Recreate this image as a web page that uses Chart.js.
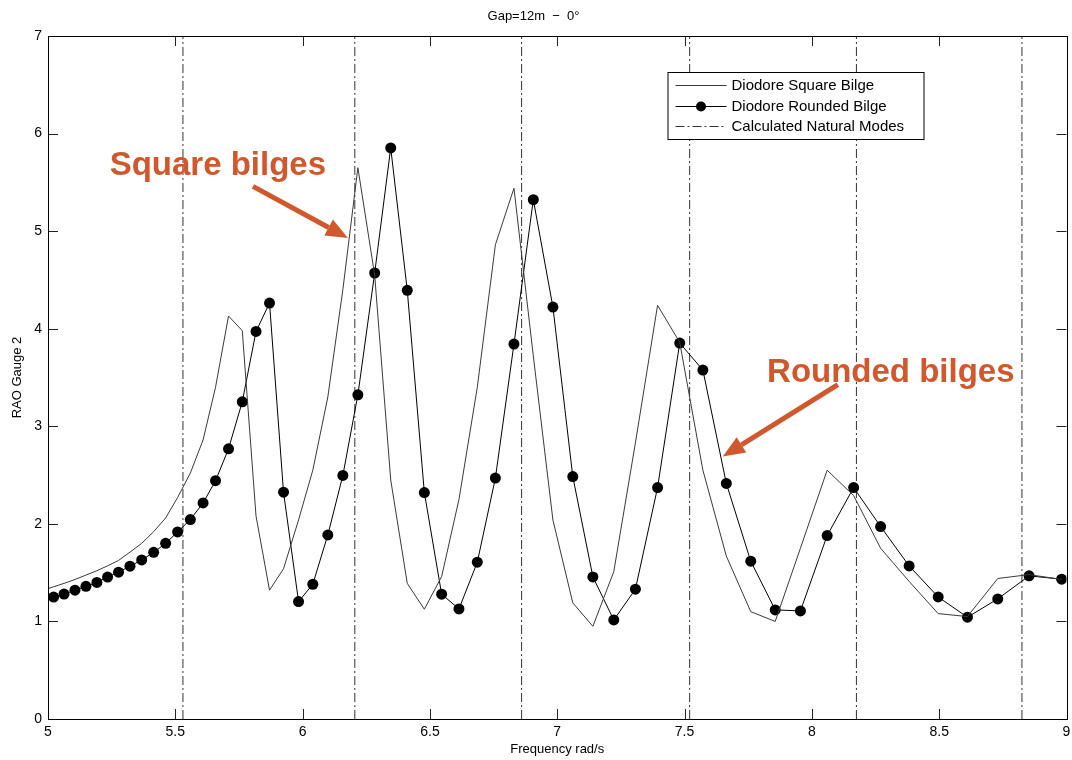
<!DOCTYPE html>
<html>
<head>
<meta charset="utf-8">
<title>RAO Gauge 2</title>
<script src="https://cdn.jsdelivr.net/npm/chart.js@4.4.1/dist/chart.umd.min.js"></script>
<style>
  html, body { margin: 0; padding: 0; background: #fff; }
  #wrap { width: 1072px; height: 760px; position: relative; }
</style>
</head>
<body>
<div id="wrap"><canvas id="rao"></canvas></div>
<script>
// frequency grid (rad/s), shared by both Diodore runs
const freq = [
  4.981, 5.022, 5.063, 5.106, 5.149, 5.192, 5.234, 5.277, 5.322, 5.368, 5.415,
  5.462, 5.509, 5.559, 5.609, 5.658, 5.709, 5.763, 5.817, 5.870, 5.925,
  5.984, 6.040, 6.099, 6.158, 6.217, 6.283, 6.346, 6.411, 6.478, 6.546,
  6.614, 6.686, 6.757, 6.830, 6.906, 6.983, 7.061, 7.140, 7.222, 7.307,
  7.394, 7.481, 7.572, 7.664, 7.760, 7.856, 7.955, 8.060, 8.164, 8.270,
  8.382, 8.496, 8.611, 8.730, 8.853, 8.981
]

const squareBilge = [
  1.32, 1.355, 1.39, 1.43, 1.475, 1.52, 1.57, 1.625, 1.71, 1.80, 1.92,
  2.06, 2.27, 2.52, 2.86, 3.40, 4.13, 3.98, 2.08, 1.32, 1.54,
  2.04, 2.55, 3.30, 4.40, 5.65, 4.55, 2.45, 1.39, 1.125, 1.46,
  2.25, 3.40, 4.86, 5.44, 3.72, 2.04, 1.19, 0.95, 1.51, 2.83,
  4.24, 3.86, 2.55, 1.67, 1.10, 1.00, 1.75, 2.55, 2.29, 1.75,
  1.41, 1.08, 1.05, 1.44, 1.48, 1.43
]

const roundedBilge = [
  1.225, 1.25, 1.28, 1.32, 1.36, 1.40, 1.455, 1.505, 1.566, 1.63, 1.708,
  1.80, 1.917, 2.044, 2.214, 2.442, 2.769, 3.251, 3.972, 4.263, 2.325,
  1.203, 1.381, 1.887, 2.496, 3.323, 4.571, 5.853, 4.393, 2.321, 1.279,
  1.128, 1.607, 2.469, 3.843, 5.323, 4.222, 2.485, 1.456, 1.015, 1.330,
  2.372, 3.853, 3.576, 2.414, 1.617, 1.118, 1.108, 1.880, 2.372, 1.972,
  1.569, 1.251, 1.043, 1.231, 1.467, 1.433
]

const naturalModes = [5.53, 6.205, 6.86, 7.52, 8.175, 8.825]

// callout labels, anchored in data units
const callouts = [
  {text: 'Square bilges', at: [5.667, 5.579], from: [5.805, 5.459], to: [6.178, 4.930]},
  {text: 'Rounded bilges', at: [8.310, 3.459], from: [8.102, 3.426], to: [7.650, 2.690]},
]

const FONT = '"Liberation Sans", Arial, Helvetica, sans-serif'
const ORANGE = '#d0582c'

function toPoints(xs, ys){
    return xs.map((x, i) => ({x: x, y: ys[i]}))
}

// one vertical segment per mode, separated by gaps
function modeLines(modes){
    let pts = []
    modes.forEach(m => {
        pts.push({x: m, y: 0}, {x: m, y: 7}, {x: m, y: null})
    })
    return pts
}

const frameAndTicks = {
    id: 'frameAndTicks',
    afterDatasetsDraw(chart){
        const {ctx, chartArea: a, scales} = chart
        ctx.save()
        ctx.strokeStyle = '#222'
        ctx.lineWidth = 1
        ctx.beginPath()
        scales.x.ticks.forEach(t => {
            if (t.value <= 5 || t.value >= 9) return
            const px = Math.round(scales.x.getPixelForValue(t.value)) + 0.5
            ctx.moveTo(px, a.bottom); ctx.lineTo(px, a.bottom - 10)
            ctx.moveTo(px, a.top); ctx.lineTo(px, a.top + 10)
        })
        scales.y.ticks.forEach(t => {
            if (t.value <= 0 || t.value >= 7) return
            const py = Math.round(scales.y.getPixelForValue(t.value)) + 0.5
            ctx.moveTo(a.left, py); ctx.lineTo(a.left + 10, py)
            ctx.moveTo(a.right, py); ctx.lineTo(a.right - 10, py)
        })
        ctx.stroke()
        ctx.strokeStyle = '#000'
        ctx.strokeRect(Math.round(a.left) + 0.5, Math.round(a.top) + 0.5,
            Math.round(a.right - a.left), Math.round(a.bottom - a.top))
        ctx.restore()
    }
}

const boxLegend = {
    id: 'boxLegend',
    afterDraw(chart){
        const {ctx, chartArea: a} = chart
        const left = a.right - 399, top = a.top + 36, w = 256, h = 67
        ctx.save()
        ctx.fillStyle = '#fff'
        ctx.fillRect(left, top, w, h)
        ctx.strokeStyle = '#000'
        ctx.lineWidth = 1
        ctx.strokeRect(left + 0.5, top + 0.5, w, h)
        ctx.font = '15px ' + FONT
        ctx.textBaseline = 'middle'
        chart.data.datasets.forEach((ds, i) => {
            const y = Math.round(top + 13 + i * 20.7) + 0.5
            ctx.strokeStyle = ds.borderColor
            ctx.setLineDash(ds.borderDash || [])
            ctx.beginPath()
            ctx.moveTo(left + 8, y); ctx.lineTo(left + 59, y)
            ctx.stroke()
            ctx.setLineDash([])
            if (ds.pointRadius > 0){
                ctx.fillStyle = ds.pointBackgroundColor
                ctx.beginPath()
                ctx.arc(left + 33.5, y, ds.pointRadius - 0.5, 0, Math.PI * 2)
                ctx.fill()
            }
            ctx.fillStyle = '#000'
            ctx.fillText(ds.label, left + 64, y)
        })
        ctx.restore()
    }
}

const calloutArrows = {
    id: 'calloutArrows',
    afterDraw(chart){
        const {ctx, scales} = chart
        const px = v => scales.x.getPixelForValue(v)
        const py = v => scales.y.getPixelForValue(v)
        ctx.save()
        ctx.fillStyle = ORANGE
        ctx.strokeStyle = ORANGE
        ctx.font = 'bold 33px ' + FONT
        ctx.textAlign = 'center'
        ctx.textBaseline = 'alphabetic'
        callouts.forEach(c => {
            ctx.fillText(c.text, px(c.at[0]), py(c.at[1]))
            const x0 = px(c.from[0]), y0 = py(c.from[1])
            const x1 = px(c.to[0]), y1 = py(c.to[1])
            const ang = Math.atan2(y1 - y0, x1 - x0)
            const head = 22, half = 9
            const bx = x1 - head * Math.cos(ang), by = y1 - head * Math.sin(ang)
            ctx.lineWidth = 5
            ctx.beginPath()
            ctx.moveTo(x0, y0); ctx.lineTo(bx, by)
            ctx.stroke()
            ctx.beginPath()
            ctx.moveTo(x1, y1)
            ctx.lineTo(bx + half * Math.sin(ang), by - half * Math.cos(ang))
            ctx.lineTo(bx - half * Math.sin(ang), by + half * Math.cos(ang))
            ctx.closePath()
            ctx.fill()
        })
        ctx.restore()
    }
}

const config = {
    type: 'line',
    data: {
        datasets: [
            {
                label: 'Diodore Square Bilge',
                data: toPoints(freq, squareBilge),
                borderColor: '#3a3a3a',
                borderWidth: 1,
                pointRadius: 0,
                tension: 0,
                clip: 0
            },
            {
                label: 'Diodore Rounded Bilge',
                data: toPoints(freq, roundedBilge),
                borderColor: '#000',
                borderWidth: 1,
                pointRadius: 5.5,
                pointBackgroundColor: '#000',
                pointBorderWidth: 0,
                tension: 0,
                clip: 0
            },
            {
                label: 'Calculated Natural Modes',
                data: modeLines(naturalModes),
                borderColor: '#333',
                borderWidth: 1,
                borderDash: [9, 3, 2, 3],
                pointRadius: 0,
                spanGaps: false,
                clip: 0
            }
        ]
    },
    options: {
        responsive: true,
        maintainAspectRatio: false,
        animation: false,
        events: [],
        layout: {padding: {top: 0, right: 5, bottom: 0, left: 0}},
        plugins: {
            legend: {display: false},
            tooltip: {enabled: false},
            title: {
                display: true,
                text: 'Gap=12m  \u2212  0\u00b0',
                color: '#000',
                font: {family: FONT, size: 13, weight: 'normal'},
                padding: {top: 9, bottom: 11.4}
            }
        },
        scales: {
            x: {
                type: 'linear',
                min: 5,
                max: 9,
                grid: {display: false, drawTicks: false},
                border: {display: false},
                ticks: {
                    stepSize: 0.5,
                    color: '#000',
                    font: {family: FONT, size: 14},
                    padding: 5,
                    maxRotation: 0,
                    autoSkip: false,
                    callback: v => String(Math.round(v * 10) / 10)
                },
                title: {
                    display: true,
                    text: 'Frequency rad/s',
                    color: '#000',
                    font: {family: FONT, size: 13},
                    padding: {top: 0, bottom: 3}
                },
                afterFit: s => { s.height = 41; s.paddingRight = 0; s.paddingLeft = 0 }
            },
            y: {
                min: 0,
                max: 7,
                grid: {display: false, drawTicks: false},
                border: {display: false},
                ticks: {
                    stepSize: 1,
                    color: '#000',
                    font: {family: FONT, size: 14},
                    padding: 6
                },
                title: {
                    display: true,
                    text: 'RAO Gauge 2',
                    color: '#000',
                    font: {family: FONT, size: 13},
                    padding: {top: 10, bottom: 0}
                },
                afterFit: s => { s.width = 48 }
            }
        }
    },
    plugins: [frameAndTicks, boxLegend, calloutArrows]
}

new Chart(document.getElementById('rao'), config)
</script>
</body>
</html>
